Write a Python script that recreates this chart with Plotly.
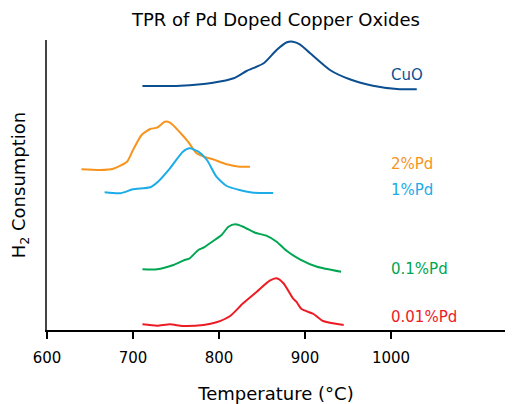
import plotly.graph_objects as go

# Temperature (°C) and H2 consumption (a.u.)
cuo_t = [711, 755, 793, 817, 832, 852, 867, 879, 886, 894, 906, 929, 952, 979, 1007, 1030]
cuo_y = [244, 244.3, 247.3, 251.7, 259, 266.7, 280, 287.7, 288.3, 285.7, 276.7, 260, 250.7, 244.3, 241, 240.7]

pd2_t = [640, 662, 677, 693, 700, 710, 720, 728, 737, 743, 755, 764, 774, 786, 793, 809, 824, 836]
pd2_y = [160.7, 160, 161.3, 168.3, 180, 195, 201, 202.3, 208.3, 207.3, 197.3, 188.3, 176.7, 172.3, 170.7, 165.7, 163.3, 163.3]

pd1_t = [667, 685, 700, 720, 729, 743, 758, 766, 776, 786, 797, 809, 824, 840, 863]
pd1_y = [137.7, 136.7, 140.7, 142.7, 148.3, 161.7, 178.3, 181.7, 178.3, 170, 153.3, 144, 140, 137.3, 137]

pd01_t = [711, 728, 747, 760, 766, 776, 782, 792, 803, 811, 819, 828, 842, 855, 867, 879, 894, 914, 942]
pd01_y = [60.7, 60.7, 65, 70, 71.7, 80, 82.3, 88.3, 95, 103.3, 105.7, 103.3, 97.3, 94.3, 88.3, 79, 70.7, 63.3, 58.3]

pd001_t = [711, 728, 743, 758, 782, 797, 813, 828, 844, 859, 867, 875, 886, 890, 896, 910, 921, 945]
pd001_y = [5.7, 4.3, 5.7, 4, 5, 7.7, 14, 26.7, 38.3, 49.3, 51.7, 46.7, 31.7, 28.3, 21, 16, 9, 5]

series_names = ["CuO", "2%Pd", "1%Pd", "0.1%Pd", "0.01%Pd"]
series_t = [cuo_t, pd2_t, pd1_t, pd01_t, pd001_t]
series_y = [cuo_y, pd2_y, pd1_y, pd01_y, pd001_y]
label_y = [255, 165.7, 140, 60.7, 13.3]
label_x = 1000
colors = ["#0b4f91", "#f7941d", "#1cace8", "#00a651", "#ed1c24"]

x_ticks = [600, 700, 800, 900, 1000]

FONT = "DejaVu Sans"

fig = go.Figure()
for name, t, y, c in zip(series_names, series_t, series_y, colors):
    fig.add_trace(go.Scatter(x=t, y=y, mode="lines", name=name,
                             line=dict(color=c, width=2, shape="spline", smoothing=0.6),
                             showlegend=False, hoverinfo="skip"))

for name, ly, c in zip(series_names, label_y, colors):
    fig.add_annotation(x=label_x, y=ly, text=name, showarrow=False,
                       xanchor="left", yanchor="middle", xshift=-2,
                       font=dict(family=FONT, size=15, color=c))

# page is drawn with an 8px body offset; margins compensate for it
fig.update_layout(
    width=517, height=396,
    margin=dict(l=39, r=20, t=32, b=74),
    plot_bgcolor="white", paper_bgcolor="white",
    title=dict(text="TPR of Pd Doped Copper Oxides", x=0.5, xref="paper", xanchor="center",
               y=1 - 12 / 396, yref="container", yanchor="middle",
               font=dict(family=FONT, size=18, color="black")),
    font=dict(family=FONT, color="black"),
)
fig.update_xaxes(range=[600, 1132.6], tickvals=x_ticks, ticktext=[str(v) for v in x_ticks],
                 showgrid=False, zeroline=False, showline=True, linecolor="black", linewidth=1.5,
                 ticks="outside", ticklen=7, tickwidth=1.5, tickcolor="black", automargin=False,
                 ticklabelstandoff=6,
                 tickfont=dict(family=FONT, size=15, color="black"),
                 title=dict(text="Temperature (°C)", font=dict(family=FONT, size=18, color="black"),
                            standoff=26))
fig.update_yaxes(range=[0, 290], showgrid=False, zeroline=False, showticklabels=False,
                 showline=True, linecolor="#444444", linewidth=2, ticks="", automargin=False,
                 title=dict(text="H<sub>2</sub> Consumption",
                            font=dict(family=FONT, size=18, color="black"), standoff=16))

fig.write_html("out.html")
